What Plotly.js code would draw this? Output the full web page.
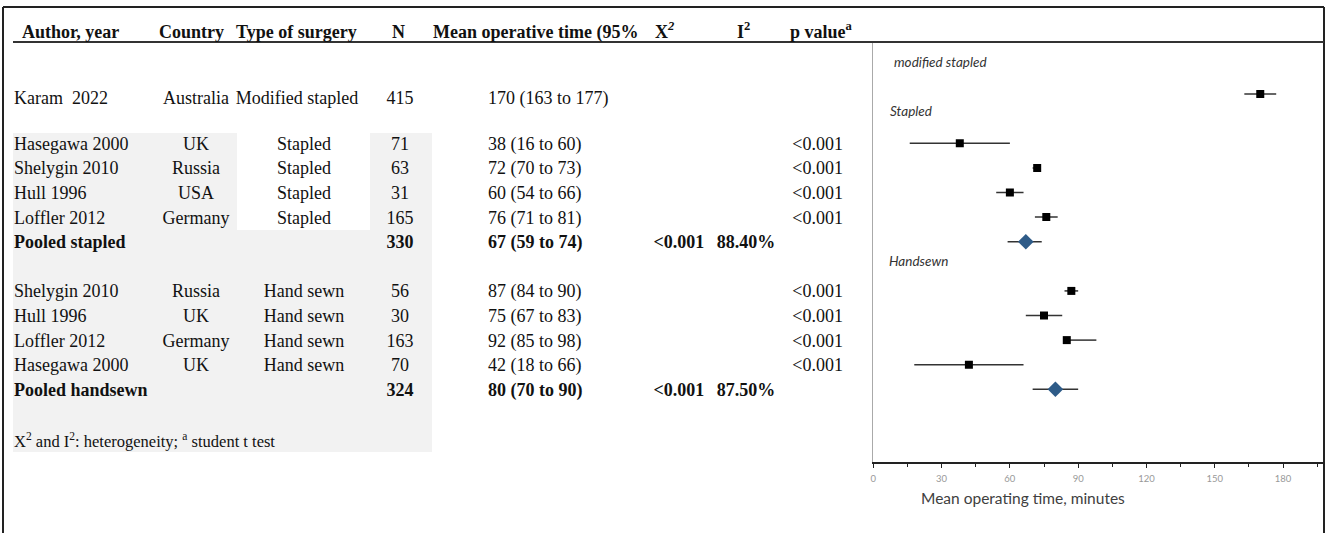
<!DOCTYPE html>
<html><head><meta charset="utf-8">
<script src="https://cdn.plot.ly/plotly-3.0.1.min.js"></script>
<style>html,body{margin:0;padding:0;background:#fff}#chart{width:1328px;height:533px}</style>
</head><body><div id="chart"></div>
<script>
// ---- data ----
const groupNames = ['modified stapled', 'Stapled', 'Handsewn'];
const rowGroup   = [0, 1, 1, 1, 1, 1, 2, 2, 2, 2, 2];
const pooled     = [false, false, false, false, false, true, false, false, false, false, true];
const authors    = ['Karam  2022', 'Hasegawa 2000', 'Shelygin 2010', 'Hull 1996', 'Loffler 2012', 'Pooled stapled',
                    'Shelygin 2010', 'Hull 1996', 'Loffler 2012', 'Hasegawa 2000', 'Pooled handsewn'];
const countries  = ['Australia', 'UK', 'Russia', 'USA', 'Germany', '', 'Russia', 'UK', 'Germany', 'UK', ''];
const surgery    = ['Modified stapled', 'Stapled', 'Stapled', 'Stapled', 'Stapled', '',
                    'Hand sewn', 'Hand sewn', 'Hand sewn', 'Hand sewn', ''];
const nValues    = ['415', '71', '63', '31', '165', '330', '56', '30', '163', '70', '324'];
const meanCI     = ['170 (163 to 177)', '38 (16 to 60)', '72 (70 to 73)', '60 (54 to 66)', '76 (71 to 81)', '67 (59 to 74)',
                    '87 (84 to 90)', '75 (67 to 83)', '92 (85 to 98)', '42 (18 to 66)', '80 (70 to 90)'];
const chi2       = ['', '', '', '', '', '<0.001', '', '', '', '', '<0.001'];
const i2         = ['', '', '', '', '', '88.40%', '', '', '', '', '87.50%'];
const pValues    = ['', '<0.001', '<0.001', '<0.001', '<0.001', '', '<0.001', '<0.001', '<0.001', '<0.001', ''];
// plotted estimates and intervals as drawn in the forest plot (minutes)
const plotEst    = [170, 38, 72, 60, 76, 67, 87, 75, 85, 42, 80];
const plotLo     = [163, 16, 70, 54, 71, 59, 84, 67, 85, 18, 70];
const plotHi     = [177, 60, 73, 66, 81, 74, 90, 83, 98, 66, 90];
const xTicks     = [0, 30, 60, 90, 120, 150, 180];

// ---- layout helpers ----
const W = 1328, H = 533;
const px = x => x / W, py = y => 1 - y / H;
const rowIdx = [];
{ let r = 0; rowGroup.forEach((g, i) => { if (i > 0) r += (g !== rowGroup[i-1]) ? 2 : 1; rowIdx.push(r); }); }
const tableY = rowIdx.map((r, i) => r + (rowGroup[i] === 0 ? 0.2 : 0.08));
const B = (t, i) => pooled[i] && t ? '<b>' + t + '</b>' : t;
const serif = 'Liberation Serif, Times New Roman, serif';
const FS = 18;

const traces = [];
function col(texts, x, pos) {
  traces.push({
    type: 'scatter', mode: 'text', xaxis: 'x2', yaxis: 'y2', cliponaxis: false,
    x: texts.map((t, i) => typeof x === 'function' ? x(i) : x), y: tableY,
    text: texts.map(B), textposition: pos,
    textfont: {family: serif, size: FS, color: '#111'}, hoverinfo: 'skip'
  });
}
col(authors, 14, 'middle right');
col(countries, 196, 'middle center');
col(surgery, i => rowGroup[i] === 0 ? 297 : 304, 'middle center');
col(nValues, 400, 'middle center');
col(meanCI, 488, 'middle right');
col(chi2, 679, 'middle center');
col(i2, 746, 'middle center');
col(pValues, 843, 'middle left');

// forest marks
const studyI = pooled.map((p, i) => p ? -1 : i).filter(i => i >= 0);
const poolI  = pooled.map((p, i) => p ? i : -1).filter(i => i >= 0);
function marks(ids, sym, size, color) {
  traces.push({
    type: 'scatter', mode: 'markers', xaxis: 'x', yaxis: 'y',
    x: ids.map(i => plotEst[i]), y: ids.map(i => rowIdx[i]),
    error_x: {type: 'data', symmetric: false,
              array: ids.map(i => plotHi[i] - plotEst[i]),
              arrayminus: ids.map(i => plotEst[i] - plotLo[i]),
              color: '#333', thickness: 1.5, width: 0},
    marker: {symbol: sym, size: size, color: color, line: {width: 0}},
    hoverinfo: 'x'
  });
}
marks(studyI, 'square', 8, '#000');
marks(poolI, 'diamond', 12, '#2E5B88');

const yRange = [14.955, -2.118];
const txt = (x, y, text, opts) => Object.assign({xref: 'paper', yref: 'paper', x: px(x), y: py(y),
  text: text, showarrow: false, xanchor: 'left', yanchor: 'middle',
  font: {family: serif, size: FS, color: '#111'}}, opts || {});
const hb = {family: serif, size: 18, color: '#111'};
const it = {family: 'Lato', size: 13.5, color: '#333'};
const annotations = [
  txt(20, 32, '<b>Author, year</b>', {font: hb}),
  txt(191, 32, '<b>Country</b>', {font: hb, xanchor: 'center'}),
  txt(296, 32, '<b>Type of surgery</b>', {font: hb, xanchor: 'center'}),
  txt(398, 32, '<b>N</b>', {font: hb, xanchor: 'center'}),
  txt(431, 32, '<b>Mean operative time (95%</b>', {font: hb}),
  txt(653, 30, '<b>X<sup><i>2</i></sup></b>', {font: hb}),
  txt(735, 30, '<b>I<sup>2</sup></b>', {font: hb}),
  txt(788, 31, '<b>p value<sup>a</sup></b>', {font: hb}),
  txt(12, 440, 'X<sup>2</sup> and I<sup>2</sup>: heterogeneity; <sup>a</sup> student t test', {font: {family: serif, size: 16.5, color: '#111'}}),
  txt(892, 62, '<i>' + groupNames[0] + '</i>', {font: it}),
  txt(888, 111, '<i>' + groupNames[1] + '</i>', {font: it}),
  txt(887, 261, '<i>' + groupNames[2] + '</i>', {font: it}),
  txt(1023, 498, 'Mean operating time, minutes', {xanchor: 'center', font: {family: 'Lato', size: 15.5, color: '#404040'}})
];

const rectP = (x0, y0, x1, y1, fill) => ({type: 'rect', xref: 'paper', yref: 'paper', layer: 'below',
  x0: px(x0), x1: px(x1), y0: py(y1), y1: py(y0), fillcolor: fill, line: {width: 0}});
const lineP = (x0, y0, x1, y1, w, c) => ({type: 'line', xref: 'paper', yref: 'paper',
  x0: px(x0), x1: px(x1), y0: py(y0), y1: py(y1), line: {width: w, color: c}});
const shapes = [
  rectP(13, 133, 432, 452, '#f2f2f2'),
  rectP(237, 133, 370, 230, '#ffffff'),
  lineP(3, 7, 1324, 7, 2, '#222'),
  lineP(3, 7, 3, 540, 2, '#222'),
  lineP(1324, 7, 1324, 540, 2, '#222'),
  lineP(13, 42, 1324, 42, 2, '#333')
];

const layout = {
  width: W, height: H, autosize: false, showlegend: false,
  margin: {l: 0, r: 0, t: 0, b: 0, pad: 0},
  paper_bgcolor: '#fff', plot_bgcolor: 'rgba(0,0,0,0)',
  xaxis: {domain: [px(873.3), px(1324)], range: [0, 198], anchor: 'y',
          tickvals: xTicks, ticktext: xTicks.map(String),
          showline: true, linecolor: '#222', linewidth: 1.5, ticks: 'outside', ticklen: 4, tickcolor: '#222',
          minor: {dtick: 15, tick0: 0, ticks: 'outside', ticklen: 3, tickcolor: '#222'},
          ticklabelstandoff: 3,
          tickfont: {family: 'Lato', size: 9.5, color: '#999'}, showgrid: false, zeroline: false, fixedrange: true},
  yaxis: {domain: [py(462), py(42)], range: yRange, anchor: 'x', showline: true, linecolor: '#aaa', linewidth: 1.5,
          showticklabels: false, ticks: '', showgrid: false, zeroline: false, fixedrange: true},
  xaxis2: {domain: [0, 1], range: [0, W], anchor: 'y2', visible: false, fixedrange: true},
  yaxis2: {domain: [py(462), py(42)], range: yRange, anchor: 'x2', visible: false, fixedrange: true},
  annotations: annotations, shapes: shapes
};
Plotly.newPlot('chart', traces, layout, {displayModeBar: false, staticPlot: true});
</script></body></html>
